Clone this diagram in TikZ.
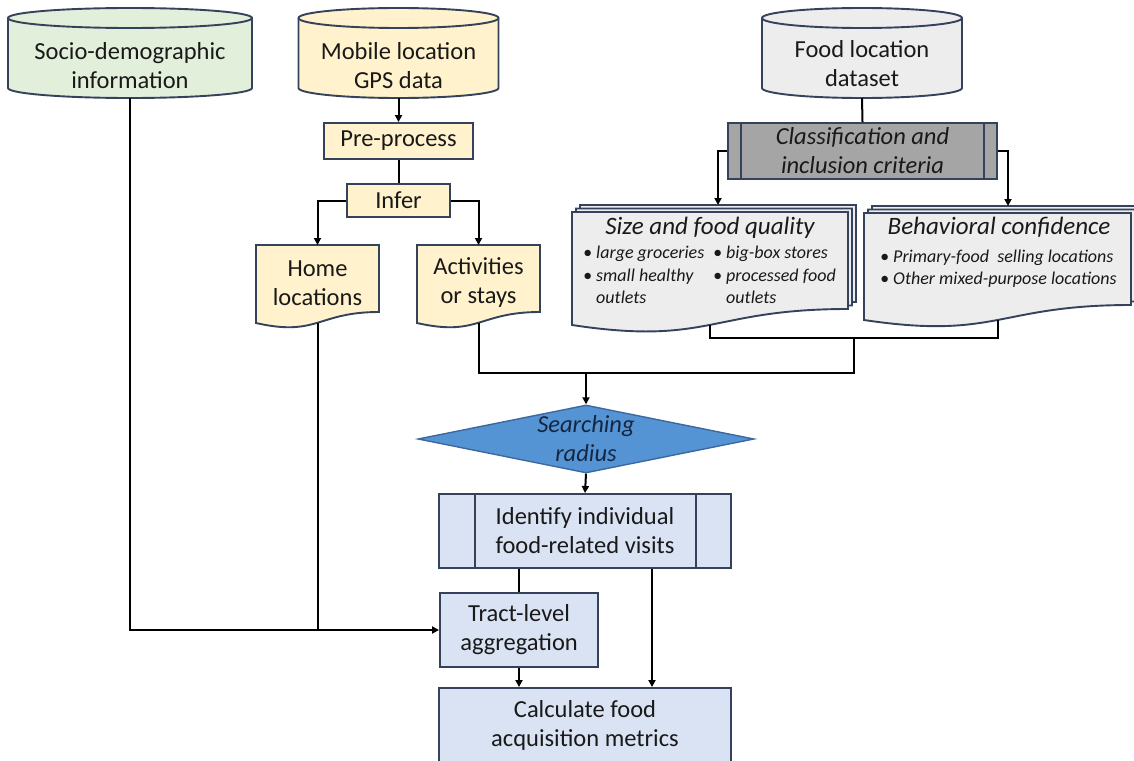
\documentclass[tikz,border=0pt]{standalone}
\usepackage{fontspec}
\setmainfont{Carlito}
\usetikzlibrary{arrows.meta}
\usetikzlibrary{shapes.geometric}

\definecolor{slate}{RGB}{52,66,92}
\definecolor{gpsyellow}{RGB}{255,242,204}
\definecolor{censusgreen}{RGB}{226,239,218}
\definecolor{foodgrey}{RGB}{237,237,237}
\definecolor{critgrey}{RGB}{165,165,165}
\definecolor{radiusblue}{RGB}{84,148,212}
\definecolor{radiusedge}{RGB}{60,104,160}
\definecolor{visitblue}{RGB}{218,227,243}
\definecolor{navytext}{RGB}{22,38,64}

\newcommand{\boxfont}{\fontsize{24.5}{29}\selectfont}
\newcommand{\headfont}{\fontsize{25}{30}\selectfont\itshape}
\newcommand{\listfont}{\fontsize{18}{22.5}\selectfont\itshape}

\tikzset{
  edge/.style={draw=slate, line width=1.9pt},
  plain/.style={inner sep=0pt, align=center, font=\boxfont, text=black!90},
  procbox/.style={edge, fill=#1, inner sep=0pt, align=center, font=\boxfont, text=black!90},
  decision/.style={diamond, draw=radiusedge, fill=radiusblue, line width=1.4pt, inner sep=0pt, minimum width=336pt, minimum height=68pt},
  link/.style={line width=2pt},
  flow/.style={line width=2pt, -{Triangle[length=7pt,width=7pt]}},
}

\begin{document}
\begin{tikzpicture}[x=1pt,y=1pt,yscale=-1,xscale=1]
\useasboundingbox (0,0) rectangle (1134,760);

%Shape: Can
\draw[edge, fill=censusgreen] (8,18) -- (8,88) arc[start angle=180,end angle=0,x radius=122,y radius=10] -- (252,18) arc[start angle=0,end angle=-180,x radius=122,y radius=10] -- cycle;
\draw[edge] (8,18) arc[start angle=180,end angle=0,x radius=122,y radius=10];
\node[plain] (census) at (130,66) {Socio-demographic\\information};
\coordinate (census-b) at (130,98);

%Shape: Can
\draw[edge, fill=gpsyellow] (298.5,18) -- (298.5,88) arc[start angle=180,end angle=0,x radius=100,y radius=10] -- (498.5,18) arc[start angle=0,end angle=-180,x radius=100,y radius=10] -- cycle;
\draw[edge] (298.5,18) arc[start angle=180,end angle=0,x radius=100,y radius=10];
\node[plain] (gps) at (398.5,66) {Mobile location\\GPS data};
\coordinate (gps-b) at (398.5,98);

%Shape: Can
\draw[edge, fill=foodgrey] (762,18) -- (762,88) arc[start angle=180,end angle=0,x radius=100,y radius=10] -- (962,18) arc[start angle=0,end angle=-180,x radius=100,y radius=10] -- cycle;
\draw[edge] (762,18) arc[start angle=180,end angle=0,x radius=100,y radius=10];
\node[plain] (food) at (862,64) {Food location\\dataset};
\coordinate (food-b) at (862,98);

%Flowchart: Process
\node[procbox=gpsyellow, minimum width=149pt, minimum height=36pt] (prep) at (398.5,141) {Pre-process};
\node[procbox=gpsyellow, minimum width=103pt, minimum height=33pt] (infer) at (398.5,200.5) {Infer};

%Flowchart: Document
\draw[edge, fill=gpsyellow] (256,245) -- (379,245) -- (379,312) .. controls (317.5,312) and (317.5,337) .. (256,323) -- cycle;
\node[plain] (home) at (317.5,283) {Home\\locations};
\coordinate (home-t) at (317.5,245);
\coordinate (home-b) at (317.5,323);

%Flowchart: Document
\draw[edge, fill=gpsyellow] (417,245) -- (540,245) -- (540,312) .. controls (478.5,312) and (478.5,337) .. (417,323) -- cycle;
\node[plain] (stays) at (478.5,283) {Activities\\or stays};
\coordinate (stays-t) at (478.5,245);
\coordinate (stays-b) at (478.5,323);

%Flowchart: Predefined Process
\node[procbox=critgrey, minimum width=269pt, minimum height=56pt, font=\boxfont\itshape] (crit) at (862.5,151) {Classification and\\inclusion criteria};
\draw[edge] ([xshift=14pt]crit.north west) -- ([xshift=14pt]crit.south west);
\draw[edge] ([xshift=-14pt]crit.north east) -- ([xshift=-14pt]crit.south east);

%Flowchart: Multidocument
\draw[edge, fill=foodgrey, shift={(8,-7)}] (572,212) -- (848,212) -- (848,309) .. controls (710,309) and (710,346) .. (572,325) -- cycle;
\draw[edge, fill=foodgrey, shift={(4,-3.5)}] (572,212) -- (848,212) -- (848,309) .. controls (710,309) and (710,346) .. (572,325) -- cycle;
\draw[edge, fill=foodgrey] (572,212) -- (848,212) -- (848,309) .. controls (710,309) and (710,346) .. (572,325) -- cycle;
\node[plain, font=\headfont] (quality) at (710,228) {Size and food quality};
\node[plain, font=\listfont, anchor=west, align=left] (qualityA) at (583,275) {• large groceries\\• small healthy\\\hphantom{• }outlets};
\node[plain, font=\listfont, anchor=west, align=left] (qualityB) at (713,275) {• big-box stores\\• processed food\\\hphantom{• }outlets};
\coordinate (quality-t) at (718,205);
\coordinate (quality-b) at (710,325);

%Flowchart: Multidocument
\draw[edge, fill=foodgrey, shift={(8,-7)}] (864,213) -- (1131,213) -- (1131,305) .. controls (997.5,305) and (997.5,340) .. (864,320) -- cycle;
\draw[edge, fill=foodgrey, shift={(4,-3.5)}] (864,213) -- (1131,213) -- (1131,305) .. controls (997.5,305) and (997.5,340) .. (864,320) -- cycle;
\draw[edge, fill=foodgrey] (864,213) -- (1131,213) -- (1131,305) .. controls (997.5,305) and (997.5,340) .. (864,320) -- cycle;
\node[plain, font=\headfont] (confidence) at (999,227) {Behavioral confidence};
\node[plain, font=\listfont, anchor=west, align=left] (confidenceA) at (880,268.5) {• Primary-food\ \ selling locations\\• Other mixed-purpose locations};
\coordinate (conf-t) at (1008,206);
\coordinate (conf-b) at (997.5,320);

%Flowchart: Decision
\node[decision] (radius) at (586,439) {};
\node[plain, font=\boxfont\itshape, text=navytext] (radiustext) at (586,439) {Searching\\radius};

%Flowchart: Predefined Process
\node[procbox=visitblue, minimum width=292pt, minimum height=74pt] (visits) at (585,531) {Identify individual\\food-related visits};
\draw[edge] ([xshift=37pt]visits.north west) -- ([xshift=37pt]visits.south west);
\draw[edge] ([xshift=-36pt]visits.north east) -- ([xshift=-36pt]visits.south east);

%Flowchart: Process
\node[procbox=visitblue, minimum width=158pt, minimum height=74pt] (tract) at (519,630) {Tract-level\\aggregation};
\node[procbox=visitblue, minimum width=292pt, minimum height=74pt] (metrics) at (585,725) {Calculate food\\acquisition metrics};

%Straight Lines
\coordinate (critjoin) at (854,338);
\coordinate (stayjoin) at (586,373);
\draw[flow] (gps-b) -- (prep.north);
\draw[link] (prep.south) -- (infer.north);
\draw[flow] (infer.west) -| (home-t);
\draw[flow] (infer.east) -| (stays-t);
\draw[link] (food-b) -- (crit.north);
\draw[flow] (crit.west) -| (quality-t);
\draw[flow] (crit.east) -| (conf-t);
\draw[link] (quality-b) |- (critjoin) -| (conf-b);
\draw[link] (critjoin) |- (stayjoin);
\draw[link] (stays-b) |- (stayjoin);
\draw[flow] (stayjoin) -- (radius.north);
\draw[flow] (radius.south) -- (visits.north);
\draw[flow] (census-b) |- (tract.west);
\draw[link] (home-b) -- (home-b |- tract.west);
\draw[link] (visits.south -| tract.north) -- (tract.north);
\draw[flow] (tract.south) -- (metrics.north -| tract.south);
\draw[flow] ([xshift=67pt]visits.south) -- ([xshift=67pt]metrics.north);

\end{tikzpicture}
\end{document}
